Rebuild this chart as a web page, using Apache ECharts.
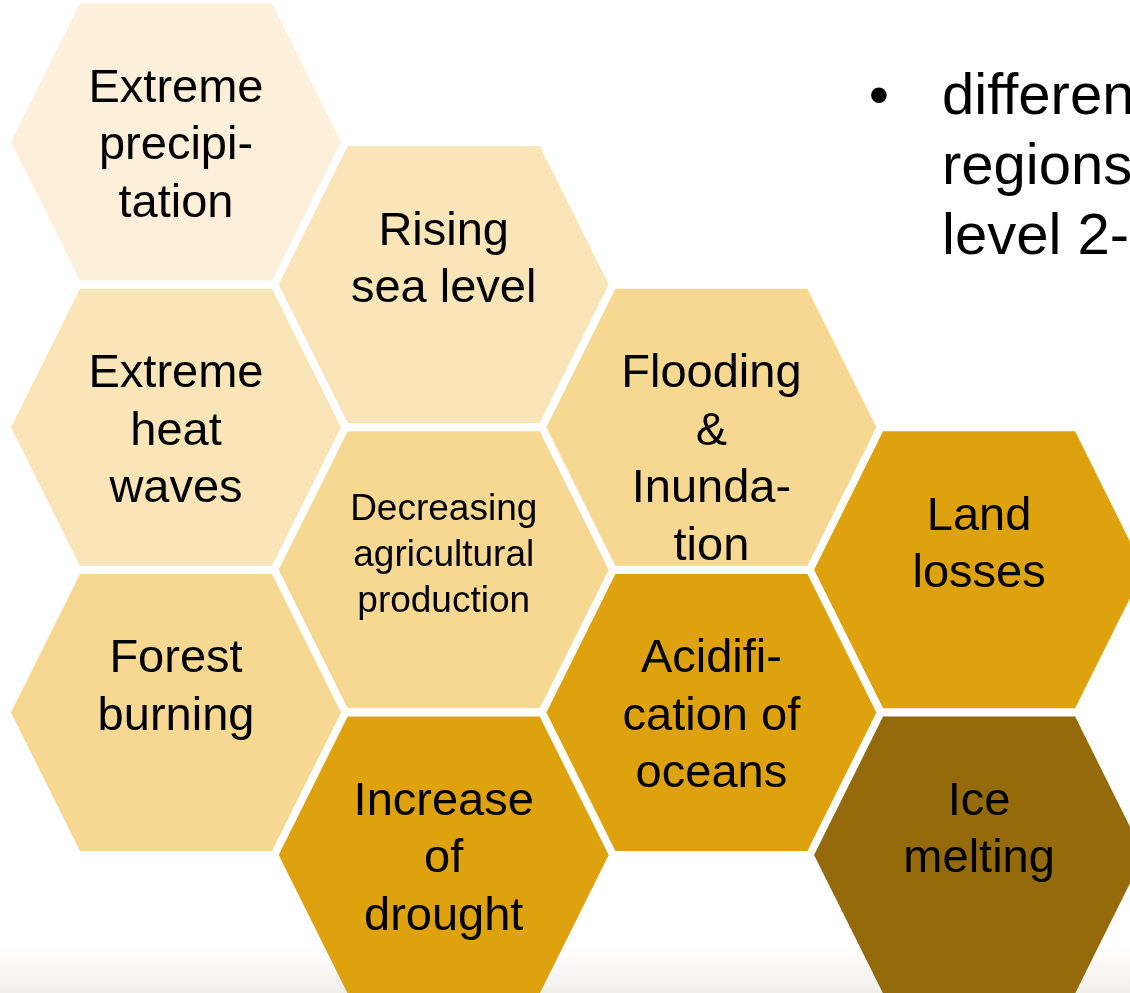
<!DOCTYPE html>
<html><head><meta charset="utf-8">
<script src="https://cdn.jsdelivr.net/npm/echarts@6/dist/echarts.min.js"></script>
<style>html,body{margin:0;padding:0;background:#fff}#c{width:1130px;height:993px}</style>
</head><body><div id="c"></div>
<script>
// Honeycomb cells: label, column, half-row position, intensity level
const labels = ['Extreme\nprecipi-\ntation','Rising\nsea level','Extreme\nheat\nwaves','Flooding\n&\nInunda-\ntion','Decreasing\nagricultural\nproduction','Land\nlosses','Forest\nburning','Acidifi-\ncation of\noceans','Increase\nof\ndrought','Ice\nmelting'];
const cols   = [0, 1, 0, 2, 1, 3, 0, 2, 1, 3];
const rows   = [0, 1, 2, 2, 3, 3, 4, 4, 5, 5];
const levels = [1, 2, 2, 3, 3, 4, 3, 4, 4, 5];
const bulletLines = ['differen', 'regions', 'level 2-'];

const palette = {1:'#FCF0DB', 2:'#F9E5B7', 3:'#F7D892', 4:'#DEA20F', 5:'#956A0B'};
const FONT = "'Liberation Sans', Arial, sans-serif";

const data = cols.map((c, i) => [c, rows[i], levels[i]]);

const chart = echarts.init(document.getElementById('c'), null, {renderer:'canvas'});
chart.setOption({
  animation: false,
  backgroundColor: '#ffffff',
  grid: {left:0, right:0, top:0, bottom:0},
  xAxis: {type:'value', min:-0.6575, max:3.5637, show:false},
  yAxis: {type:'value', inverse:true, min:-0.9958, max:5.9677, show:false},
  graphic: [
    {type:'rect', z:0, shape:{x:0, y:945, width:1130, height:48},
     style:{fill:{type:'linear', x:0, y:0, x2:0, y2:1,
       colorStops:[{offset:0, color:'rgba(243,240,236,0)'},{offset:1, color:'#F2EFEB'}]}}},
    {type:'text', z:5, x:879, y:63,
     style:{text:'•', font:'58px ' + FONT, fill:'#000', align:'center', verticalAlign:'top', lineHeight:70}},
    {type:'text', z:5, x:942, y:63,
     style:{text:bulletLines.join('\n'), font:'58px ' + FONT, fill:'#000', align:'left', verticalAlign:'top', lineHeight:70}}
  ],
  series: [{
    type:'custom',
    coordinateSystem:'cartesian2d',
    clip:false,
    data: data,
    renderItem: function (params, api) {
      const c = api.coord([api.value(0), api.value(1)]);
      const u = api.size([1, 1]);
      const hw = 0.6165 * u[0];   // half width
      const tw = 0.3587 * u[0];   // half of flat top edge
      const hh = 0.9712 * u[1];   // half height
      const lvl = api.value(2);
      const label = labels[params.dataIndex];
      const longest = Math.max.apply(null, label.split('\n').map(s => s.length));
      const small = longest > 9;
      const fs = small ? 37 : 47;
      const lh = small ? 46 : 57.5;
      const firstMid = small ? 60 : 53;
      return {
        type:'group',
        children:[
          {type:'polygon',
           shape:{points:[[c[0]-hw,c[1]],[c[0]-tw,c[1]-hh],[c[0]+tw,c[1]-hh],[c[0]+hw,c[1]],[c[0]+tw,c[1]+hh],[c[0]-tw,c[1]+hh]]},
           style:{fill:palette[lvl], stroke:null}},
          {type:'text',
           style:{text:label, x:c[0], y:c[1]-firstMid-lh/2, font: fs + 'px ' + FONT,
                  fill:'#000', align:'center', verticalAlign:'top', lineHeight:lh}}
        ]
      };
    }
  }]
});
</script>
</body></html>
